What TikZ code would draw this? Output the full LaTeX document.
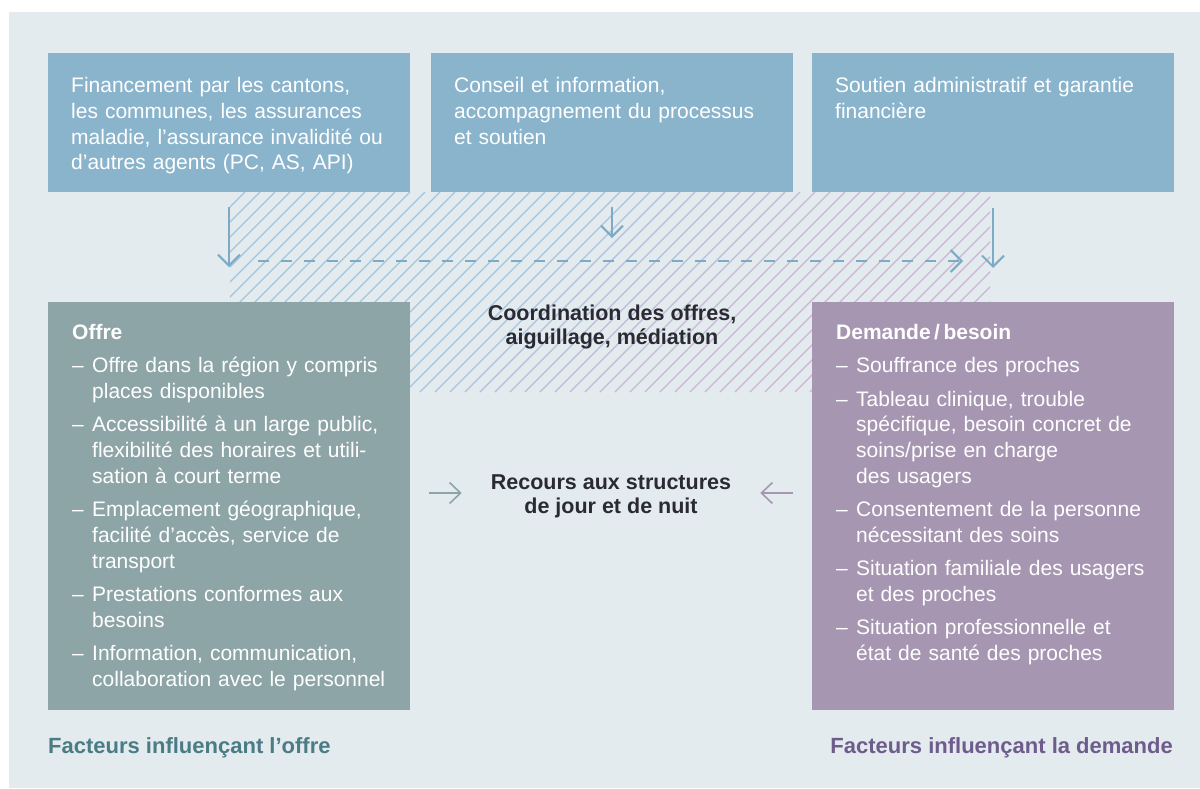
\documentclass[tikz,border=0pt]{standalone}
\usepackage{fontspec}
\setmainfont{Liberation Sans}
\usetikzlibrary{arrows.meta}

\definecolor{panelbg}{RGB}{227,235,238}
\definecolor{topblue}{RGB}{138,180,204}
\definecolor{offregray}{RGB}{142,165,168}
\definecolor{demandelila}{RGB}{166,150,178}
\definecolor{arrowblue}{RGB}{125,171,198}
\definecolor{hatchblue}{RGB}{162,197,221}
\definecolor{hatchlila}{RGB}{204,180,212}
\definecolor{darktext}{RGB}{42,42,52}
\definecolor{offretitle}{RGB}{74,124,134}
\definecolor{demandetitle}{RGB}{110,92,140}

\newcommand{\boxfont}{\fontsize{21}{25.7}\selectfont}
\newcommand{\midfont}{\fontsize{21.5}{24}\selectfont\bfseries}
\newcommand{\itm}{\makebox[20pt][l]{–}}
\newcommand{\cnt}{\hspace*{20pt}}

\begin{document}
\begin{tikzpicture}[x=1pt,y=-1pt,
    box/.style={anchor=north west, inner sep=0pt, outer sep=0pt, minimum width=362pt},
    topbox/.style={box, fill=topblue, minimum height=139pt},
    factorbox/.style={box, minimum height=408pt},
    boxtext/.style={anchor=north west, inner sep=0pt, text width=340pt, align=left, text=white, font=\boxfont},
    midlabel/.style={anchor=north, inner sep=0pt, align=center, text=darktext, font=\midfont},
    footlabel/.style={inner sep=0pt, font=\fontsize{22}{26}\selectfont\bfseries},
    flow/.style={arrowblue, line width=2pt, -{Straight Barb[length=11pt,width=22pt]}},
    sideflow/.style={line width=1.6pt, -{Straight Barb[length=11pt,width=21pt]}}]

  \useasboundingbox (0,0) rectangle (1200,788);
  \fill[panelbg] (9,12) rectangle (1200,788);

  % hatched band
  \begin{scope}
    \clip (230,192) rectangle (990,392);
    \foreach \b in {30,45,...,990}{
      \pgfmathtruncatemacro{\t}{min(100,max(0,(\b+100-480)/3))}
      \draw[hatchlila!\t!hatchblue, line width=1.3pt] (\b,392) -- ++(200,-200);
    }
  \end{scope}

  % boxes
  \node[topbox] (fin) at (48,53) {};
  \node[topbox] (con) at (431,53) {};
  \node[topbox] (sou) at (812,53) {};
  \node[factorbox, fill=offregray] (offre) at (48,302) {};
  \node[factorbox, fill=demandelila] (demande) at (812,302) {};

  \node[boxtext] (fintext) at ([shift={(23,21.7)}]fin.north west)
    {\strut Financement par les cantons,\\les communes, les assurances\\maladie, l’assurance invalidité ou\\d’autres agents (PC, AS, API)};
  \node[boxtext] (context) at ([shift={(23,21.7)}]con.north west)
    {\strut Conseil et information,\\accompagnement du processus\\et soutien};
  \node[boxtext] (soutext) at ([shift={(23,21.7)}]sou.north west)
    {\strut Soutien administratif et garantie\\financière};

  \node[boxtext] (offretext) at ([shift={(24,19.3)}]offre.north west)
    {\strut\textbf{Offre}\\[7.7pt]
     \itm Offre dans la région y compris\\\cnt places disponibles\\[7.7pt]
     \itm Accessibilité à un large public,\\\cnt flexibilité des horaires et utili-\\\cnt sation à court terme\\[7.7pt]
     \itm Emplacement géographique,\\\cnt facilité d’accès, service de\\\cnt transport\\[7.7pt]
     \itm Prestations conformes aux\\\cnt besoins\\[7.7pt]
     \itm Information, communication,\\\cnt collaboration avec le personnel};
  \node[boxtext] (demandetext) at ([shift={(24,19.3)}]demande.north west)
    {\strut\textbf{Demande\,/\,besoin}\\[7.7pt]
     \itm Souffrance des proches\\[7.7pt]
     \itm Tableau clinique, trouble\\\cnt spécifique, besoin concret de\\\cnt soins/prise en charge\\\cnt des usagers\\[7.7pt]
     \itm Consentement de la personne\\\cnt nécessitant des soins\\[7.7pt]
     \itm Situation familiale des usagers\\\cnt et des proches\\[7.7pt]
     \itm Situation professionnelle et\\\cnt état de santé des proches};

  \node[midlabel] (coordination) at (612,303.9) {\strut Coordination des offres,\\aiguillage, médiation};
  \node[midlabel] (recours) at (611,472.5) {\strut Recours aux structures\\de jour et de nuit};

  \node[footlabel, anchor=base west, text=offretitle] (offrefoot) at (48,753.3) {Facteurs influençant l’offre};
  \node[footlabel, anchor=base east, text=demandetitle] (demandefoot) at (1173,753.3) {Facteurs influençant la demande};

  % arrows
  \coordinate (finend) at ([yshift=-75pt]fin.south);
  \coordinate (conend) at ([yshift=-46pt]con.south);
  \coordinate (souend) at ([yshift=-76pt]sou.south);
  \coordinate (dashstart) at (258,261);
  \coordinate (dashend) at (963,261);

  \draw[flow, shorten <=15pt] (fin.south) -- (finend);
  \draw[flow, shorten <=15pt] (con.south) -- (conend);
  \draw[flow, shorten <=16pt] (sou.south) -- (souend);
  \draw[flow, dash pattern=on 11pt off 12pt] (dashstart) -- (dashend);

  \draw[sideflow, offregray, shorten <=19pt, shorten >=29pt] (offre.east |- 0,493) -- (recours.west |- 0,493);
  \draw[sideflow, demandelila, shorten <=19pt, shorten >=29pt] (demande.west |- 0,493) -- (recours.east |- 0,493);
\end{tikzpicture}
\end{document}
